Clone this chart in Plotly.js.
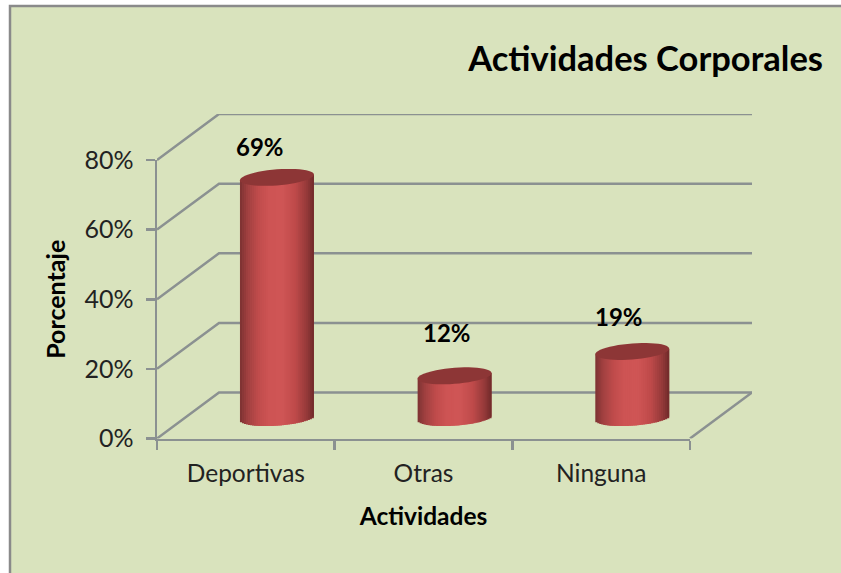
<!DOCTYPE html>
<html><head><meta charset="utf-8">
<script src="https://cdn.plot.ly/plotly-3.0.1.min.js"></script>
<style>html,body{margin:0;padding:0;background:#fff}</style></head>
<body><div id="chart" style="width:841px;height:573px"></div>
<script>
// --- data
const categories = ['Deportivas', 'Otras', 'Ninguna'];
const percentages = [69, 12, 19];
const axisTicks = [0, 20, 40, 60, 80];
const axisTickLabels = ['0%', '20%', '40%', '60%', '80%'];
const categoryEdges = [-0.5, 0.5, 1.5, 2.5];
const labelShiftX = [14, 23, 18];
const labelShiftY = [52, 64, 56];

// --- 3-D look (in axis units)
const W = 841, H = 573;
const depthX = 0.349, depthY = 13.2;   // wall depth
const midX = 0.175, midY = 6;          // cylinder sits half way back
const radius = 0.208, ry = 2.3, tilt = 0.8;
const gray = '#8b9191';
const font = 'Lato, "Open Sans", sans-serif';

const shadeStops = [[-1,[124,50,50]],[-0.8,[160,64,64]],[-0.5,[192,76,76]],[-0.2,[206,84,84]],[0.15,[207,85,85]],[0.5,[190,74,74]],[0.8,[150,58,58]],[1,[112,42,42]]];
function shade(t){
  for(let i=1;i<shadeStops.length;i++){
    if(t<=shadeStops[i][0]){
      const [a,c0]=shadeStops[i-1],[b,c1]=shadeStops[i];
      const f=(t-a)/(b-a);
      return 'rgb('+c0.map((c,k)=>Math.round(c+(c1[k]-c)*f)).join(',')+')';
    }
  }
  return 'rgb(112,42,42)';
}

const traces = [{x:categories, y:percentages, type:'scatter', mode:'none', xaxis:'x', yaxis:'y', hoverinfo:'skip', showlegend:false}];
const shapes = [];
const STRIPS = 37;

// panel
shapes.push({type:'rect', xref:'paper', yref:'paper', x0:10/W, x1:1.01, y0:-0.01, y1:1-6/H,
  fillcolor:'#d9e3bd', line:{color:'#8a8a8a', width:2.5}, layer:'below'});

// walls and floor
axisTicks.forEach(v=>{
  shapes.push({type:'path', xref:'x2', yref:'y2', layer:'below', line:{color:gray,width:2.5},
    path:`M -0.5 ${v} L ${-0.5+depthX} ${v+depthY} L ${2.5+depthX} ${v+depthY}`});
});
shapes.push({type:'line', xref:'x2', yref:'y2', layer:'below', line:{color:gray,width:2.5},
  x0:2.5, y0:0, x1:2.5+depthX, y1:depthY});

// cylinders: overlapping strips painted left to right
percentages.forEach((v,i)=>{
  const xs=[],hs=[],bs=[],cs=[],ws=[];
  const cx=i+midX;
  for(let k=0;k<STRIPS;k++){
    const e0=-1+2*k/STRIPS, e1=Math.min(1,e0+4/STRIPS);
    const t=e0+1/STRIPS;
    xs.push(cx+(e0+e1)/2*radius);
    ws.push((e1-e0)*radius);
    const low=midY-ry*Math.sqrt(Math.max(0,1-t*t))+tilt*t;
    const top=midY+v+tilt*t;
    bs.push(low); hs.push(top-low); cs.push(shade(t));
  }
  traces.push({type:'bar', x:xs, y:hs, base:bs, width:ws, xaxis:'x2', yaxis:'y2',
    marker:{color:cs, line:{width:0}}, hoverinfo:'skip', showlegend:false});
  let p='';
  for(let a=0;a<=48;a++){
    const th=a/48*2*Math.PI, t=Math.cos(th);
    const px=cx+t*radius, py=midY+v+tilt*t+ry*Math.sin(th);
    p+=(a?' L ':'M ')+px.toFixed(4)+' '+py.toFixed(3);
  }
  shapes.push({type:'path', xref:'x2', yref:'y2', layer:'above', path:p+' Z', fillcolor:'#8d3636', line:{width:0}});
});

const annotations = percentages.map((v,i)=>({
  xref:'x', yref:'y', x:i, y:v, xshift:labelShiftX[i], yshift:labelShiftY[i], text:v+'%', showarrow:false,
  font:{family:font, size:24, color:'#000', weight:700}
}));

const layout = {
  width:W, height:H, margin:{l:0,r:0,t:0,b:0},
  paper_bgcolor:'#ffffff', plot_bgcolor:'rgba(0,0,0,0)', showlegend:false, barmode:'overlay',
  title:{text:'Actividades Corporales', x:823/W, xanchor:'right', xref:'paper', y:1-59/H, yanchor:'middle', yref:'paper',
    font:{family:font, size:34.5, color:'#000', weight:700}},
  xaxis:{domain:[157/W,690/W], type:'category', range:[-0.5,2.5], showgrid:false, zeroline:false,
    showline:true, linecolor:gray, linewidth:2.5, ticks:'', tickfont:{family:font,size:24.5,color:'#222'},
    ticklabelstandoff:12,
    minor:{tickmode:'array', tickvals:categoryEdges, ticks:'outside', ticklen:9, tickwidth:2.5, tickcolor:gray, showgrid:false},
    title:{text:'Actividades', standoff:22, font:{family:font,size:24.5,color:'#000',weight:700}}, automargin:false, fixedrange:true},
  yaxis:{domain:[1-438.5/H,1-160/H], range:[0,80], tickmode:'array', tickvals:axisTicks, ticktext:axisTickLabels,
    showgrid:false, zeroline:false, showline:true, linecolor:gray, linewidth:2.5,
    ticks:'outside', ticklen:9, tickwidth:2.5, tickcolor:gray, tickfont:{family:font,size:25,color:'#222'},
    ticklabelstandoff:7,
    title:{text:'Porcentaje', standoff:12, font:{family:font,size:25,color:'#000',weight:700}}, automargin:false, fixedrange:true},
  xaxis2:{domain:[157/W,752/W], range:[-0.5,2.5+depthX], anchor:'y2', visible:false, fixedrange:true},
  yaxis2:{domain:[1-438.5/H,1-114/H], range:[0,80+depthY], anchor:'x2', visible:false, fixedrange:true},
  shapes, annotations
};
Plotly.newPlot('chart', traces, layout, {displayModeBar:false, staticPlot:true});
</script></body></html>
